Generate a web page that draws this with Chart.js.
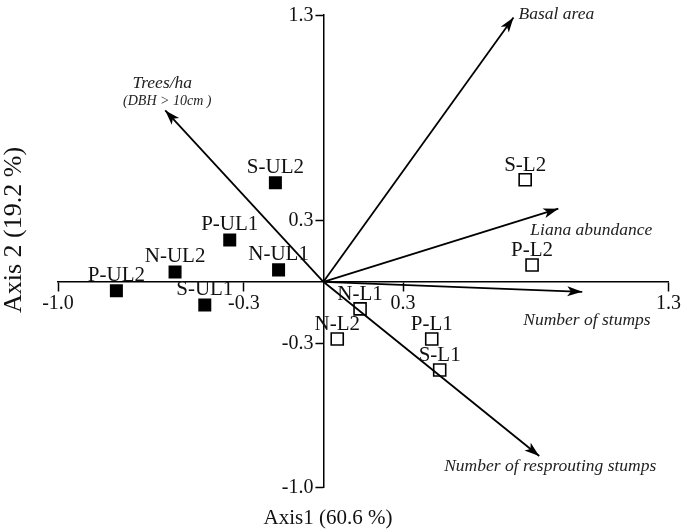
<!DOCTYPE html>
<html>
<head>
<meta charset="utf-8">
<script src="https://cdn.jsdelivr.net/npm/chart.js@4.4.1/dist/chart.umd.min.js"></script>
<style>
html,body{margin:0;padding:0;background:#fff;}
#wrap{width:682px;height:530px;}
</style>
</head>
<body>
<div id="wrap"><canvas id="c" width="682" height="530"></canvas></div>
<script>
// Sites without lianas (filled squares)
const ulLabels = ['P-UL2','N-UL2','S-UL1','N-UL1','P-UL1','S-UL2'];
const ulAxis1  = [-0.780, -0.559, -0.447, -0.169, -0.353, -0.181];
const ulAxis2  = [-0.044,  0.048, -0.113,  0.058,  0.204,  0.483];
// Sites with lianas (open squares)
const lLabels = ['N-L1','N-L2','P-L1','S-L1','S-L2','P-L2'];
const lAxis1  = [0.138, 0.052, 0.408, 0.438, 0.760, 0.786];
const lAxis2  = [-0.132, -0.279, -0.279, -0.430, 0.497, 0.082];
// Variable vectors
const varNames = ['Trees/ha','Basal area','Liana abundance','Number of stumps','Number of resprouting stumps'];
const varAxis1 = [-0.596, 0.716, 0.885, 0.975, 0.813];
const varAxis2 = [ 0.835, 1.288, 0.356, -0.049, -0.849];
// Tick labels
const tickValues = [-1.0, -0.3, 0.3, 1.3];
const xTitle = 'Axis1 (60.6 %)';
const yTitle = 'Axis 2 (19.2 %)';

const SERIF = '"Liberation Serif", "Times New Roman", serif';

const siteDs = (labels, xs, ys, filled) => ({
  type: 'scatter',
  label: filled ? 'UL' : 'L',
  data: xs.map((x, i) => ({x: x, y: ys[i], name: labels[i]})),
  pointStyle: 'rect',
  pointRadius: filled ? 9.2 : 8.5,
  pointHoverRadius: filled ? 9.2 : 8.5,
  backgroundColor: filled ? '#000' : 'rgba(0,0,0,0)',
  borderColor: '#000',
  borderWidth: filled ? 0 : 1.6,
  order: 1
});

const arrowDs = varNames.map((n, i) => ({
  type: 'scatter',
  label: n,
  data: [{x: 0, y: 0}, {x: varAxis1[i], y: varAxis2[i]}],
  showLine: true,
  borderColor: '#000',
  borderWidth: 1.8,
  pointRadius: 0,
  pointHoverRadius: 0,
  isArrow: true,
  order: 2
}));

// offsets (px) of variable label relative to arrow tip: [dx, dy, align]
const varLabelPos = [
  [-3, -27, 'center'],
  [5, -3, 'left'],
  [-28, 22, 'left'],
  [-59, 29, 'left'],
  [11, 10, 'center']
];

const annot = {
  id: 'annot',
  afterDatasetsDraw(chart) {
    const ctx = chart.ctx;
    const ys = chart.scales.y, xs = chart.scales.x;
    const axX = xs.getPixelForValue(0);
    ctx.save();
    // y-axis tick marks and labels
    ctx.strokeStyle = '#000';
    ctx.lineWidth = 1.5;
    ctx.fillStyle = '#111';
    ctx.font = '20px ' + SERIF;
    ctx.textAlign = 'right';
    ctx.textBaseline = 'middle';
    tickValues.forEach(v => {
      const py = Math.round(ys.getPixelForValue(v)) + 0.5;
      ctx.beginPath();
      ctx.moveTo(axX, py);
      ctx.lineTo(axX - 8, py);
      ctx.stroke();
      ctx.fillText(v.toFixed(1), axX - 10, py);
    });
    // arrowheads and variable labels
    chart.data.datasets.forEach((ds, di) => {
      if (!ds.isArrow) return;
      const meta = chart.getDatasetMeta(di);
      const p0 = meta.data[0], p1 = meta.data[1];
      const ang = Math.atan2(p1.y - p0.y, p1.x - p0.x);
      const L = 15, W = 5;
      ctx.fillStyle = '#000';
      ctx.beginPath();
      ctx.moveTo(p1.x, p1.y);
      ctx.lineTo(p1.x - L*Math.cos(ang) + W*Math.sin(ang), p1.y - L*Math.sin(ang) - W*Math.cos(ang));
      ctx.lineTo(p1.x - L*0.75*Math.cos(ang), p1.y - L*0.75*Math.sin(ang));
      ctx.lineTo(p1.x - L*Math.cos(ang) - W*Math.sin(ang), p1.y - L*Math.sin(ang) + W*Math.cos(ang));
      ctx.closePath();
      ctx.fill();
      const vi = varNames.indexOf(ds.label);
      const pos = varLabelPos[vi];
      ctx.font = 'italic 17.5px ' + SERIF;
      ctx.textAlign = pos[2];
      ctx.textBaseline = 'middle';
      ctx.fillStyle = '#222';
      ctx.fillText(ds.label, p1.x + pos[0], p1.y + pos[1]);
      if (vi === 0) {
        ctx.font = 'italic 14px ' + SERIF;
        ctx.fillText('(DBH > 10cm )', p1.x + 2, p1.y - 9);
      }
    });
    // site labels
    chart.data.datasets.forEach((ds, di) => {
      if (ds.isArrow) return;
      const meta = chart.getDatasetMeta(di);
      meta.data.forEach((pt, i) => {
        ctx.font = '21px ' + SERIF;
        ctx.textAlign = 'center';
        ctx.textBaseline = 'alphabetic';
        ctx.fillStyle = '#111';
        ctx.fillText(ds.data[i].name, pt.x, pt.y - ds.pointRadius * 0.707 - 3);
      });
    });
    // axis titles
    ctx.font = '21px ' + SERIF;
    ctx.textAlign = 'center';
    ctx.textBaseline = 'middle';
    ctx.fillStyle = '#111';
    ctx.fillText(xTitle, 328, 518);
    ctx.translate(14, 230);
    ctx.rotate(-Math.PI / 2);
    ctx.font = '26px ' + SERIF;
    ctx.fillText(yTitle, 0, 0);
    ctx.restore();
  }
};

const setTicks = (scale) => { scale.ticks = tickValues.map(v => ({value: v})); };

new Chart(document.getElementById('c'), {
  type: 'scatter',
  data: {
    datasets: [...arrowDs, siteDs(ulLabels, ulAxis1, ulAxis2, true), siteDs(lLabels, lAxis1, lAxis2, false)]
  },
  options: {
    responsive: false,
    devicePixelRatio: 1,
    animation: false,
    layout: {padding: {left: 58, right: 10, top: 15, bottom: 43}},
    plugins: {legend: {display: false}, tooltip: {enabled: false}},
    scales: {
      x: {
        type: 'linear',
        position: {y: 0},
        min: -1.0, max: 1.3,
        afterBuildTicks: setTicks,
        grid: {drawOnChartArea: false, drawTicks: true, tickLength: 9, tickColor: '#000', tickWidth: 1.5},
        border: {display: true, color: '#000', width: 1.5},
        ticks: {
          color: '#111',
          font: {family: SERIF, size: 20},
          padding: 1,
          maxRotation: 0,
          autoSkip: false,
          callback: v => v.toFixed(1)
        }
      },
      y: {
        type: 'linear',
        position: {x: 0},
        min: -1.0, max: 1.3,
        afterBuildTicks: setTicks,
        grid: {drawOnChartArea: false, drawTicks: false},
        border: {display: true, color: '#000', width: 1.5},
        ticks: {display: false}
      }
    }
  },
  plugins: [annot]
});
</script>
</body>
</html>
